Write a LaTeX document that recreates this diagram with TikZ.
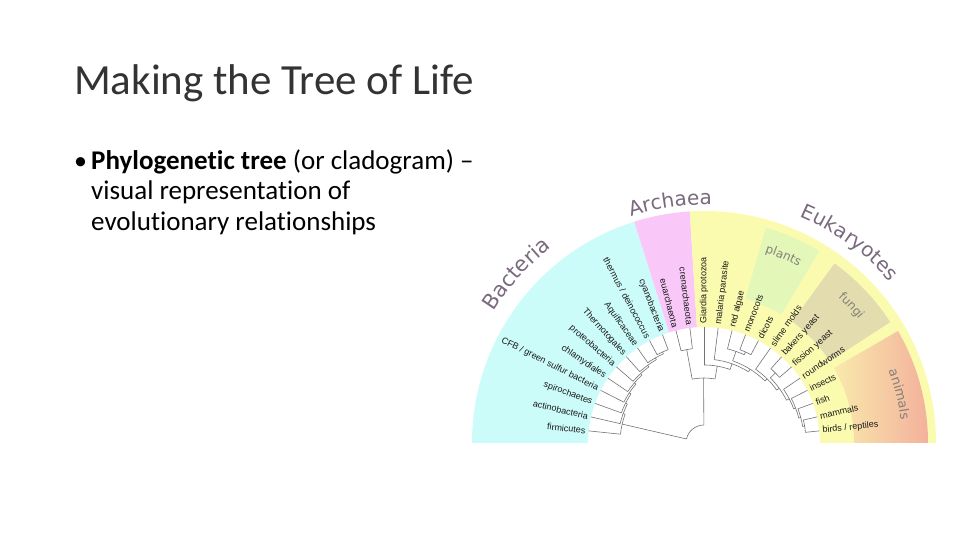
\documentclass[tikz,border=0pt]{standalone}
\usepackage{fontspec}
\setmainfont{Carlito}[Ligatures=NoCommon]
\newfontfamily\grp{DejaVu Sans}
\newfontfamily\leaf{Liberation Sans}
\usetikzlibrary{decorations.text}
\definecolor{bac}{HTML}{CCFCFA}
\definecolor{arc}{HTML}{F9C8F9}
\definecolor{euk}{HTML}{FBFBB0}
\definecolor{pla}{HTML}{E2F7B8}
\definecolor{fun}{HTML}{E2DCAE}
\definecolor{ani}{HTML}{F3B09C}
\definecolor{grpc}{HTML}{7A6A7E}
\definecolor{subc}{HTML}{85807A}
\definecolor{titc}{HTML}{333333}
\tikzset{
  tr/.style={draw=black!55, line width=0.6pt},
  lab/.style={font=\leaf\fontsize{9}{9}\selectfont, inner sep=0pt, text=black!90},
  txt/.style={anchor=base west, inner sep=0pt},
}
\newcommand\nd[5]{%
  \draw[tr] (#2:#1) arc[start angle=#2, end angle=#4, radius=#1pt];
  \draw[tr] (#2:#1) -- (#2:#3);
  \draw[tr] (#4:#1) -- (#4:#5);}
\newcommand\lf[3]{%
  \ifdim #1pt>90pt
    \node[lab, anchor=east, rotate=#1-180] (#2) at (#1:119) {#3};
  \else
    \node[lab, anchor=west, rotate=#1] (#2) at (#1:119) {#3};
  \fi}
\newcommand\sector[4]{(#1:#3) -- (#1:#4) arc[start angle=#1, end angle=#2, radius=#4pt] -- (#2:#3) arc[start angle=#2, end angle=#1, radius=#3pt] -- cycle}
\begin{document}
\begin{tikzpicture}[x=1pt,y=1pt]
\useasboundingbox (0,0) rectangle (960,540);
\fill[white] (0,0) rectangle (960,540);
% title and bullets
\node[txt, font=\fontsize{43}{43}\selectfont, text=titc] (title) at (74,445) {Making the Tree of Life};
\node[txt, font=\fontsize{26}{26}\selectfont] (bul) at (74,370) {•};
\node[txt, font=\fontsize{27}{27}\selectfont] (l1) at (91,370) {\textbf{Phylogenetic tree} (or cladogram) –};
\node[txt, font=\fontsize{27}{27}\selectfont] (l2) at (91,340) {visual representation of};
\node[txt, font=\fontsize{27}{27}\selectfont] (l3) at (91,309) {evolutionary relationships};
\begin{scope}[shift={(704,97)}]
  \fill[bac] \sector{107.5}{180}{116}{232};
  \fill[arc] \sector{93.5}{107.5}{116}{232};
  \fill[euk] \sector{0}{93.5}{116}{232};
  \fill[pla] \sector{59}{74}{150}{224};
  \fill[fun] \sector{33}{54}{150}{222};
  \begin{scope}
    \clip \sector{0}{30}{150}{224};
    \shade[left color=euk, right color=ani] (100,0) rectangle (226,120);
  \end{scope}
  % group labels
  \path[decorate, decoration={text along path, text align=center, text color=grpc,
     text={|\grp\fontsize{21}{21}\selectfont|Bacteria}}]
     (160:248) arc[start angle=160, end angle=116, radius=248pt];
  \path[decorate, decoration={text along path, text align=center, text color=grpc,
     text={|\grp\fontsize{20}{20}\selectfont|Archaea}}]
     (118:238) arc[start angle=118, end angle=78, radius=238pt];
  \path[decorate, decoration={text along path, text align=center, text color=grpc,
     text={|\grp\fontsize{20}{20}\selectfont|Eukaryotes}}]
     (80:246) arc[start angle=80, end angle=28, radius=246pt];
  \path[decorate, decoration={text along path, text align=center, text color=subc,
     text={|\grp\fontsize{12}{12}\selectfont|plants}}]
     (82:200) arc[start angle=82, end angle=52, radius=200pt];
  \path[decorate, decoration={text along path, text align=center, text color=subc,
     text={|\grp\fontsize{12}{12}\selectfont|fungi}}]
     (58:198) arc[start angle=58, end angle=28, radius=198pt];
  \path[decorate, decoration={text along path, text align=center, text color=subc,
     text={|\grp\fontsize{13}{13}\selectfont|animals}}]
     (34:198) arc[start angle=34, end angle=-6, radius=198pt];
  % leaves
  \lf{174}{firm}{firmicutes}
  \lf{167}{actino}{actinobacteria}
  \lf{160}{spiro}{spirochaetes}
  \lf{153}{cfb}{CFB / green sulfur bacteria}
  \lf{146}{chlam}{chlamydiales}
  \lf{139}{proteo}{proteobacteria}
  \lf{132}{thermo}{Thermotogales}
  \lf{125}{aqui}{Aquificaceae}
  \lf{118}{thermus}{thermus / deinococcus}
  \lf{111}{cyano}{cyanobacteria}
  \lf{104}{euar}{euarchaeota}
  \lf{97}{cren}{crenarchaeota}
  \lf{90}{giar}{Giardia protozoa}
  \lf{83}{mala}{malaria parasite}
  \lf{76}{reda}{red algae}
  \lf{69}{mono}{monocots}
  \lf{62}{dico}{dicots}
  \lf{55}{slim}{slime molds}
  \lf{48}{bake}{bakers yeast}
  \lf{41}{fiss}{fission yeast}
  \lf{34}{roun}{roundworms}
  \lf{27}{inse}{insects}
  \lf{20}{fish}{fish}
  \lf{13}{mamm}{mammals}
  \lf{6}{bird}{birds / reptiles}
  % tree
  \nd{100}{111}{116}{118}{116}
  \nd{98}{114.5}{100}{125}{116}
  \nd{96}{119.75}{98}{132}{116}
  \nd{94}{125.9}{96}{139}{116}
  \nd{92}{132.4}{94}{146}{116}
  \nd{90}{139.2}{92}{153}{116}
  \nd{88}{146.1}{90}{160}{116}
  \nd{86}{153.05}{88}{167}{116}
  \nd{84}{160}{86}{174}{116}
  \nd{95}{97}{116}{104}{116}
  \nd{100}{62}{116}{69}{116}
  \nd{97}{65.5}{100}{76}{116}
  \nd{100}{41}{116}{48}{116}
  \nd{102}{6}{116}{13}{116}
  \nd{100}{9.5}{102}{20}{116}
  \nd{98}{14.75}{100}{27}{116}
  \nd{96}{20.9}{98}{34}{116}
  \nd{93}{27.4}{96}{44.5}{100}
  \nd{90}{36}{93}{55}{116}
  \nd{87}{45.5}{90}{70.75}{97}
  \nd{84}{58}{87}{83}{116}
  \nd{78}{70.5}{84}{90}{116}
  \nd{65}{80.25}{78}{100.5}{95}
  \nd{18}{90.4}{65}{167}{84}
\end{scope}
\end{tikzpicture}
\end{document}
